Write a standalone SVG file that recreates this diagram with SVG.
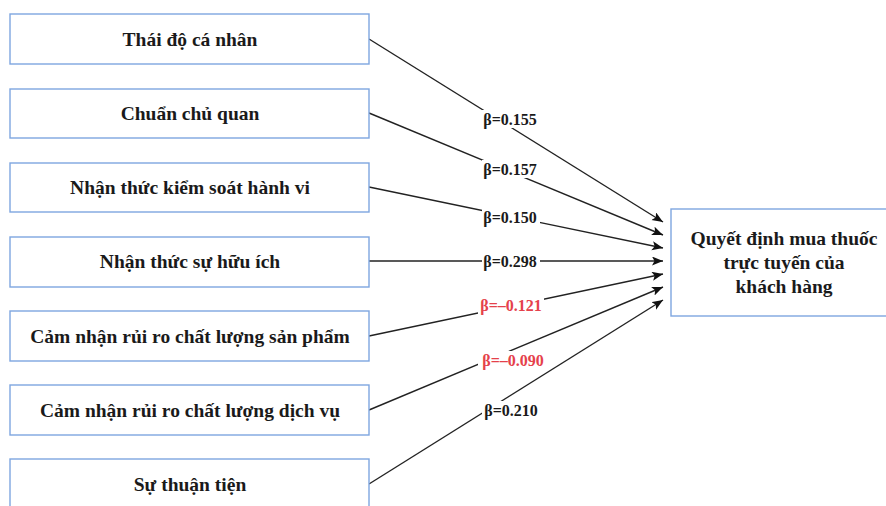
<svg xmlns="http://www.w3.org/2000/svg" width="886" height="506" viewBox="0 0 886 506">
<style>
.box{fill:#ffffff;stroke:#7ea6e0;stroke-width:1.4}
.t{font-family:"Liberation Serif","Times New Roman","DejaVu Serif",serif;font-weight:bold;font-size:16px;fill:#1a1a1a;text-anchor:middle}
.bt{font-size:19.5px}
.tt{font-size:19.5px}
.e{stroke:#222;stroke-width:1.4;fill:none;marker-end:url(#ah)}
.lb{fill:#ffffff}
.red{fill:#e5414b}
</style>
<defs>
<marker id="ah" markerUnits="userSpaceOnUse" markerWidth="12" markerHeight="10" refX="11" refY="4.5" orient="auto">
<path d="M0,0 L11,4.5 L0,9 L2.5,4.5 z" fill="#111"/>
</marker>
</defs>
<rect width="886" height="506" fill="#ffffff"/>
<g id="connectors">
<line class="e" x1="369" y1="39" x2="663" y2="222"/>
<line class="e" x1="369" y1="113" x2="663" y2="235"/>
<line class="e" x1="369" y1="187" x2="663" y2="248"/>
<line class="e" x1="369" y1="261" x2="663" y2="261"/>
<line class="e" x1="369" y1="336" x2="663" y2="274"/>
<line class="e" x1="369" y1="410" x2="663" y2="287"/>
<line class="e" x1="369" y1="484" x2="663" y2="300"/>
<g id="labels">
<rect class="lb" x="482" y="110" width="58" height="18"/>
<text class="t" x="510" y="125">β=0.155</text>
<rect class="lb" x="482" y="160" width="58" height="18"/>
<text class="t" x="510" y="175">β=0.157</text>
<rect class="lb" x="482" y="208" width="58" height="18"/>
<text class="t" x="510" y="223">β=0.150</text>
<rect class="lb" x="482" y="252" width="58" height="18"/>
<text class="t" x="510" y="267">β=0.298</text>
<rect class="lb" x="478" y="297" width="66" height="18"/>
<text class="t red" x="511" y="311">β=–0.121</text>
<rect class="lb" x="478" y="351" width="70" height="18"/>
<text class="t red" x="513" y="366">β=–0.090</text>
<rect class="lb" x="482" y="401" width="58" height="18"/>
<text class="t" x="511" y="416">β=0.210</text>
</g>
</g>
<g id="n1"><rect class="box" x="10" y="14" width="359" height="50"/><text class="t bt" x="190" y="46">Thái độ cá nhân</text></g>
<g id="n2"><rect class="box" x="10" y="89" width="359" height="49"/><text class="t bt" x="190" y="120">Chuẩn chủ quan</text></g>
<g id="n3"><rect class="box" x="10" y="163" width="359" height="49"/><text class="t bt" x="190" y="194">Nhận thức kiểm soát hành vi</text></g>
<g id="n4"><rect class="box" x="10" y="237" width="359" height="50"/><text class="t bt" x="190" y="268">Nhận thức sự hữu ích</text></g>
<g id="n5"><rect class="box" x="10" y="311" width="359" height="50"/><text class="t bt" x="190" y="343">Cảm nhận rủi ro chất lượng sản phẩm</text></g>
<g id="n6"><rect class="box" x="10" y="385" width="359" height="50"/><text class="t bt" x="190" y="417">Cảm nhận rủi ro chất lượng dịch vụ</text></g>
<g id="n7"><rect class="box" x="10" y="459" width="359" height="52"/><text class="t bt" x="190" y="491">Sự thuận tiện</text></g>
<g id="target"><rect class="box" x="671" y="209" width="230" height="107"/>
<text class="t tt" x="784" y="245">Quyết định mua thuốc</text>
<text class="t tt" x="784" y="269">trực tuyến của</text>
<text class="t tt" x="784" y="293">khách hàng</text></g>
</svg>
